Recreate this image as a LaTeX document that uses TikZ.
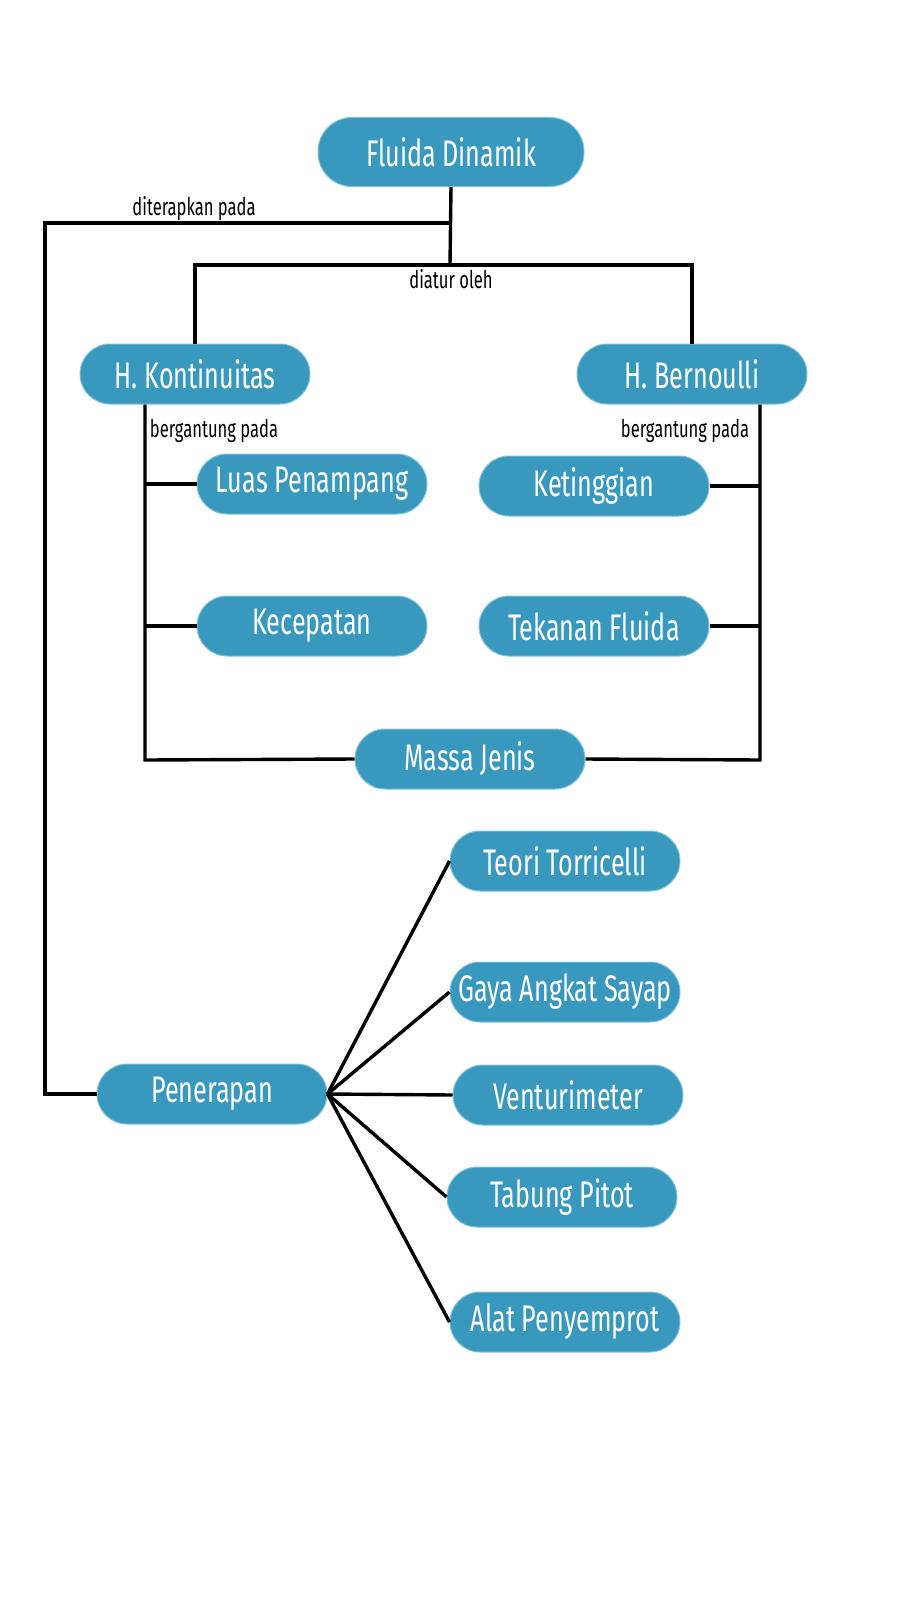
\documentclass[tikz,border=0pt]{standalone}
\usepackage{fontspec}
\setmainfont[FakeStretch=0.68]{Fira Sans}
\usetikzlibrary{calc}
\definecolor{nodeblue}{RGB}{57,152,189}
\definecolor{nodeedge}{RGB}{130,195,218}
\tikzset
{
    % Style for the rounded boxes
    concept/.style=
    {
        fill=nodeblue,
        draw=nodeedge,
        line width=0.5pt,
        text=white,
        font=\fontsize{18.5}{21}\selectfont,
        shape=rectangle,
        rounded corners=15pt,
        minimum width=115pt,
        minimum height=30pt,
        inner sep=0pt
    },
    % Style for the root box
    root/.style=
    {
        concept,
        rounded corners=17pt,
        minimum width=133pt,
        minimum height=34.5pt
    },
    % Style for the connecting lines
    link/.style=
    {
        line width=1.7pt,
        black
    },
    % Style for the words on the lines
    linklabel/.style=
    {
        font=\fontsize{12.2}{14}\selectfont,
        inner sep=0pt
    }
}

\begin{document}
\begin{tikzpicture}[x=0.5pt,y=-0.5pt]
    % Page size
    \path [use as bounding box] (0,0) rectangle (900,1600);

    % Main boxes
    \node (fd) [root] at (451,152) {Fluida Dinamik};
    \node (hk) [concept] at (195,374) {H. Kontinuitas};
    \node (hb) [concept] at (692,374) {H. Bernoulli};

    % Boxes of the continuity side
    \node (lp) [concept] at (312,484) {Luas Penampang};
    \node (kc) [concept] at (312,626) {Kecepatan};
    % Boxes of the Bernoulli side
    \node (kt) [concept] at (594,486) {Ketinggian};
    \node (tf) [concept] at (594,626) {Tekanan Fluida};
    %% Shared by both
    \node (mj) [concept] at (470,759) {Massa Jenis};

    % Applications
    \node (pen) [concept] at (212,1094) {Penerapan};
    \node (tt) [concept] at (565,861) {Teori Torricelli};
    \node (ga) [concept] at (565,992) {Gaya Angkat Sayap};
    \node (vm) [concept] at (568,1095) {Venturimeter};
    \node (tp) [concept] at (562,1197) {Tabung Pitot};
    \node (ap) [concept] at (565,1322) {Alat Penyemprot};

    % Junction points
    \coordinate (ap-top) at (450,223);
    \coordinate (split) at (450,265);
    \coordinate (ap-corner) at (45,223);
    \coordinate (ap-bottom) at (45,1094);
    \coordinate (k-bottom) at (145,760);
    \coordinate (b-bottom) at (760,760);

    % Lines from the root
    \draw[link] (fd.south) -- (split);
    \draw[link] (hk.north) |- (split) -| (hb.north);
    \draw[link] (ap-top) -- (ap-corner) -- (ap-bottom) -- (pen.west);

    % Continuity spine
    \draw[link] (hk.south -| k-bottom) -- (k-bottom) -- (mj.west);
    \draw[link] (lp.west -| k-bottom) -- (lp.west);
    \draw[link] (kc.west -| k-bottom) -- (kc.west);

    % Bernoulli spine
    \draw[link] (hb.south -| b-bottom) -- (b-bottom) -- (mj.east);
    \draw[link] (kt.east) -- (kt.east -| b-bottom);
    \draw[link] (tf.east) -- (tf.east -| b-bottom);

    % Fan of applications
    \foreach \app in {tt,ga,vm,tp,ap}
        \draw[link] (pen.east) -- (\app.west);

    % Line words
    \node (l-apply) [linklabel] at (194,209) {diterapkan pada};
    \node (l-rule) [linklabel] at (451,279) {diatur oleh};
    \node (l-kdep) [linklabel] at (214,431) {bergantung pada};
    \node (l-bdep) [linklabel] at (685,431) {bergantung pada};
\end{tikzpicture}
\end{document}
